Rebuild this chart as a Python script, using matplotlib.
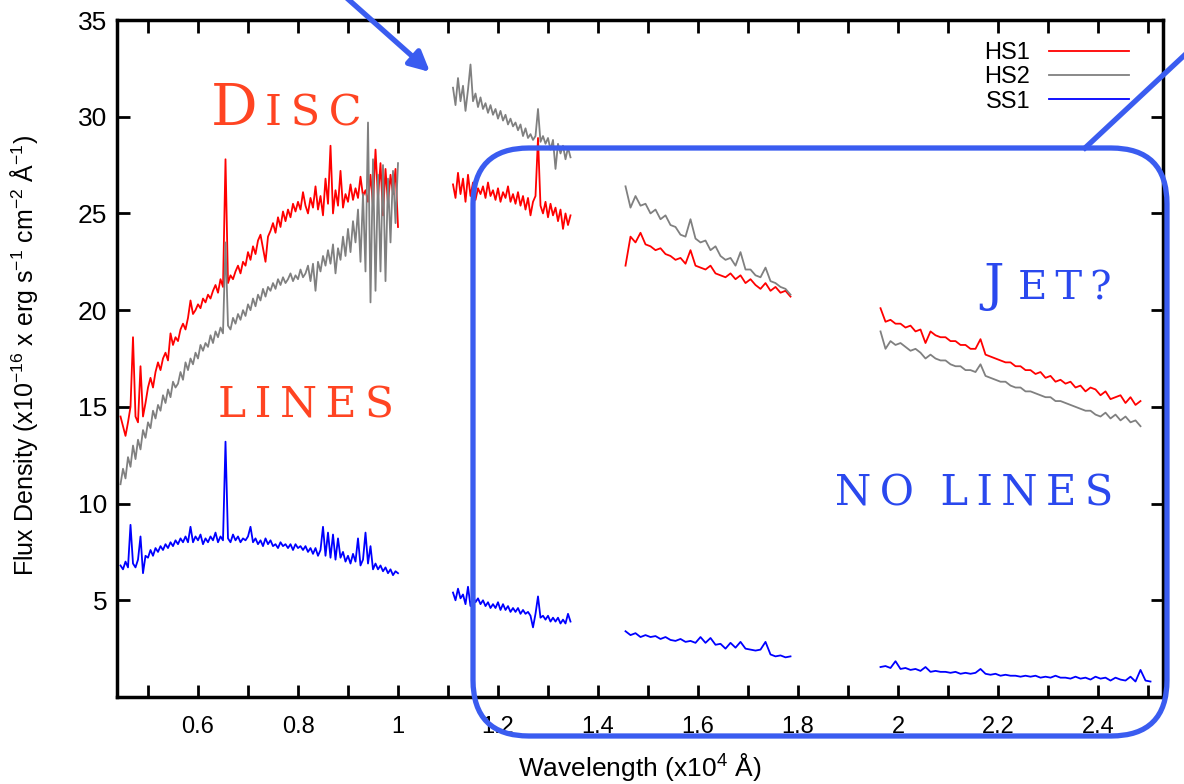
import numpy as np
import matplotlib
matplotlib.use("Agg")
import matplotlib.pyplot as plt
from matplotlib.patches import FancyBboxPatch
from matplotlib.transforms import IdentityTransform

plt.rcParams['font.family'] = ['Liberation Sans', 'DejaVu Sans']
plt.rcParams['mathtext.fontset'] = 'custom'
plt.rcParams['mathtext.rm'] = 'Liberation Sans'
plt.rcParams['mathtext.it'] = 'Liberation Sans:italic'

W, H = 1184, 784

# ---- spectra (flux in 1e-16 erg/s/cm2/A) ----
# segment 1: 0.445 - 1.000 (x1e4 A)
seg1_range = (0.445, 1.000)
hs1_seg1 = [14.5, 14.0, 13.5, 14.2, 15.0, 18.6, 14.5, 14.2, 17.1, 14.5,
            15.2, 16.0, 16.5, 16.0, 16.8, 17.3, 16.9, 17.5, 17.8, 17.4,
            18.8, 18.2, 18.6, 18.4, 19.0, 19.3, 19.0, 19.6, 20.5, 19.8,
            20.0, 20.3, 20.1, 20.6, 20.4, 20.8, 20.6, 21.0, 21.3, 20.9,
            21.6, 21.2, 27.8, 21.4, 21.8, 21.6, 22.0, 22.3, 21.9, 22.5,
            22.3, 23.0, 22.6, 23.3, 22.9, 23.6, 23.9, 23.2, 22.5, 23.8,
            24.1, 24.5, 24.0, 24.8, 24.3, 25.1, 24.6, 25.2, 24.8, 25.5,
            25.1, 25.6, 25.2, 26.1, 25.4, 25.0, 25.8, 25.3, 26.4, 25.2,
            25.9, 24.9, 26.8, 25.5, 28.5, 25.0, 26.2, 25.4, 27.2, 25.3,
            26.0, 25.6, 26.5, 25.7, 26.3, 25.8, 26.9, 25.9, 26.2, 25.6,
            27.0, 25.4, 28.3, 25.8, 27.6, 24.9, 27.3, 25.5, 27.0, 26.0,
            27.3, 24.3]
hs2_seg1 = [11.0, 11.8, 11.3, 12.4, 11.9, 13.0, 12.3, 13.3, 12.8, 13.8,
            13.4, 14.2, 13.9, 14.8, 14.4, 15.1, 14.8, 15.6, 15.2, 15.9,
            15.5, 16.3, 16.0, 16.2, 16.8, 16.4, 17.3, 16.9, 17.5, 17.2,
            17.8, 17.5, 18.2, 17.9, 18.3, 18.1, 18.7, 18.3, 18.9, 18.6,
            19.1, 18.8, 23.5, 19.2, 19.0, 19.6, 19.3, 19.8, 19.5, 20.0,
            19.7, 20.3, 20.0, 20.6, 20.2, 20.8, 20.5, 21.1, 20.7, 21.2,
            21.0, 21.4, 21.1, 21.6, 21.3, 21.7, 21.4, 21.6, 21.9, 21.5,
            21.8, 21.6, 22.1, 21.7, 21.9, 22.3, 21.5, 22.4, 21.0, 22.5,
            22.0, 22.8, 22.3, 23.1, 22.4, 23.4, 21.9, 23.2, 22.6, 23.8,
            22.8, 24.2, 23.0, 24.6, 23.5, 25.2, 22.5, 26.0, 22.0, 29.7,
            20.4, 27.8, 21.0, 27.0, 22.0, 27.5, 21.5, 26.8, 23.5, 27.2,
            24.5, 27.6]
ss1_seg1 = [6.8, 6.6, 7.0, 6.7, 8.9, 6.9, 6.7, 7.1, 8.3, 6.4,
            7.3, 7.2, 7.6, 7.3, 7.7, 7.5, 7.8, 7.6, 7.9, 7.7,
            8.0, 7.8, 8.1, 7.9, 8.2, 8.0, 8.3, 8.0, 8.8, 8.0,
            8.3, 8.1, 8.4, 7.9, 8.2, 8.0, 8.3, 8.1, 8.5, 8.0,
            8.3, 8.1, 13.2, 8.2, 8.0, 8.4, 8.1, 8.3, 8.0, 8.2,
            8.1, 8.3, 8.8, 8.0, 8.2, 7.9, 8.1, 7.8, 8.2, 7.9,
            8.1, 7.8, 7.9, 7.7, 8.0, 7.8, 7.9, 7.7, 7.9, 7.6,
            7.9, 7.7, 7.8, 7.6, 7.8, 7.5, 7.7, 7.4, 7.7, 7.3,
            7.6, 8.8, 7.3, 8.5, 7.2, 8.4, 7.1, 8.2, 7.2, 7.5,
            7.0, 7.3, 6.9, 7.4, 7.0, 8.2, 6.8, 7.1, 8.5, 6.9,
            7.8, 6.6, 6.9, 6.6, 6.8, 6.5, 6.7, 6.4, 6.6, 6.3,
            6.5, 6.4]

# segment 2: 1.110 - 1.345
seg2_range = (1.110, 1.345)
hs1_seg2 = [26.5, 25.8, 27.1, 26.0, 26.8, 25.6, 27.0, 25.9, 26.6, 25.7,
            26.3, 26.0, 26.4, 25.8, 26.6, 25.9, 26.2, 25.7, 26.3, 25.6,
            26.1, 25.8, 26.4, 25.6, 26.0, 25.5, 26.1, 25.4, 25.9, 25.2,
            25.8, 24.9, 25.6, 25.9, 28.9, 25.4, 25.0, 25.6, 24.8, 25.5,
            24.9, 25.3, 24.6, 25.2, 24.2, 25.0, 24.4, 24.9]
hs2_seg2 = [31.5, 30.6, 32.0, 30.8, 31.6, 30.3, 31.4, 32.7, 30.8, 31.2,
            30.5, 31.0, 30.4, 30.7, 30.2, 30.6, 30.1, 30.4, 29.9, 30.3,
            29.8, 30.1, 29.6, 29.9, 29.5, 29.7, 29.3, 29.6, 29.0, 29.4,
            28.9, 29.1, 28.8, 29.0, 30.4, 28.7, 29.0, 28.6, 28.9, 28.3,
            28.8, 27.3, 28.6, 28.1, 28.5, 27.8, 28.4, 27.9]
ss1_seg2 = [5.4, 5.0, 5.6, 5.1, 5.3, 4.8, 5.7, 4.7, 5.2, 4.9,
            5.1, 4.8, 5.0, 4.7, 4.9, 4.6, 4.8, 4.6, 4.9, 4.5,
            4.8, 4.5, 4.7, 4.4, 4.6, 4.4, 4.6, 4.3, 4.5, 4.3,
            4.4, 4.2, 3.6, 4.3, 5.2, 4.1, 4.2, 4.0, 4.2, 3.9,
            4.1, 3.9, 4.1, 3.8, 4.0, 3.8, 4.3, 3.9]

# segment 3: 1.455 - 1.785
seg3_range = (1.455, 1.785)
hs1_seg3 = [22.3, 23.8, 23.5, 24.0, 23.4, 23.3, 23.1, 23.2, 22.9, 22.8,
            22.6, 22.7, 22.4, 23.1, 22.3, 22.2, 22.1, 22.3, 21.9, 21.8,
            21.7, 21.9, 21.6, 21.8, 21.4, 21.6, 21.3, 21.1, 21.4, 21.0,
            21.2, 20.9, 21.0, 20.7]
hs2_seg3 = [26.4, 25.3, 25.9, 25.4, 25.5, 25.0, 25.2, 24.7, 24.9, 24.4,
            24.3, 23.9, 23.8, 24.7, 23.7, 23.5, 23.6, 23.1, 23.3, 22.8,
            22.6, 22.7, 22.3, 23.0, 22.1, 22.1, 21.8, 21.7, 22.2, 21.5,
            21.4, 21.2, 21.1, 20.8]
ss1_seg3 = [3.4, 3.2, 3.3, 3.1, 3.2, 3.1, 3.15, 3.0, 3.1, 2.95,
            2.9, 3.0, 2.85, 2.9, 2.8, 3.1, 2.8, 3.05, 2.7, 2.75,
            2.5, 2.8, 2.55, 2.85, 2.5, 2.45, 2.4, 2.45, 2.85, 2.2,
            2.1, 2.15, 2.05, 2.1]

# segment 4: 1.965 - 2.485 (HS1, HS2), 1.965 - 2.505 (SS1)
seg4_range = (1.965, 2.485)
seg4_range_ss1 = (1.965, 2.505)
hs1_seg4 = [20.1, 19.4, 19.5, 19.3, 19.3, 19.1, 19.2, 18.9, 19.0, 18.3,
            18.9, 18.7, 18.6, 18.6, 18.4, 18.4, 18.2, 18.2, 18.0, 18.0,
            18.5, 17.7, 17.6, 17.5, 17.4, 17.3, 17.3, 17.1, 17.1, 16.9,
            16.9, 16.7, 16.8, 16.5, 16.6, 16.3, 16.4, 16.2, 16.3, 16.0,
            16.1, 15.8, 16.0, 15.9, 15.6, 15.8, 15.4, 15.5, 15.6, 15.2,
            15.5, 15.1, 15.3]
hs2_seg4 = [18.9, 18.0, 18.4, 18.2, 18.3, 18.1, 17.9, 18.0, 17.8, 17.5,
            17.7, 17.5, 17.4, 17.4, 17.2, 17.1, 17.1, 16.9, 16.9, 16.8,
            17.2, 16.6, 16.5, 16.4, 16.3, 16.3, 16.1, 16.0, 16.0, 15.8,
            15.8, 15.7, 15.6, 15.5, 15.5, 15.3, 15.3, 15.2, 15.1, 15.0,
            14.9, 14.8, 14.8, 14.6, 14.5, 14.7, 14.4, 14.6, 14.3, 14.5,
            14.2, 14.3, 14.0]
ss1_seg4 = [1.55, 1.6, 1.5, 1.85, 1.45, 1.5, 1.4, 1.45, 1.35, 1.55,
            1.3, 1.35, 1.3, 1.3, 1.25, 1.3, 1.2, 1.25, 1.2, 1.25,
            1.45, 1.2, 1.15, 1.2, 1.1, 1.15, 1.1, 1.1, 1.05, 1.1,
            1.05, 1.1, 1.0, 1.05, 1.0, 1.1, 1.0, 1.0, 0.95, 1.05,
            0.95, 1.0, 0.9, 1.05, 0.95, 1.0, 0.85, 1.0, 0.9, 0.85,
            1.05, 0.8, 1.4, 0.85, 0.8]

series = [
    ('HS1', 'red', [(seg1_range, hs1_seg1), (seg2_range, hs1_seg2),
                    (seg3_range, hs1_seg3), (seg4_range, hs1_seg4)]),
    ('HS2', 'grey', [(seg1_range, hs2_seg1), (seg2_range, hs2_seg2),
                     (seg3_range, hs2_seg3), (seg4_range, hs2_seg4)]),
    ('SS1', 'blue', [(seg1_range, ss1_seg1), (seg2_range, ss1_seg2),
                     (seg3_range, ss1_seg3), (seg4_range_ss1, ss1_seg4)]),
]

xticks = [0.6, 0.8, 1.0, 1.2, 1.4, 1.6, 1.8, 2.0, 2.2, 2.4]
xtick_labels = ['0.6', '0.8', '1', '1.2', '1.4', '1.6', '1.8', '2', '2.2', '2.4']
yticks = [5, 10, 15, 20, 25, 30, 35]


def fx(px):
    return px / W


def fy(py):
    return 1 - py / H


fig = plt.figure(figsize=(W / 100, H / 100), dpi=100)
ax = fig.add_axes([fx(117), fy(697), (1163 - 117) / W, (697 - 20) / H])

for name, color, segs in series:
    for k, ((x0, x1), vals) in enumerate(segs):
        x = np.linspace(x0, x1, len(vals))
        ax.plot(x, vals, color=color, lw=1.3, label=name if k == 0 else None)

ax.set_xlim(0.438, 2.53)
ax.set_ylim(0, 35)
ax.set_xticks(xticks)
ax.set_xticklabels(xtick_labels)
ax.set_xticks(np.arange(0.5, 2.51, 0.2), minor=True)
ax.set_yticks(yticks)
ax.tick_params(which='both', direction='in', top=True, right=True,
               length=9, width=2)
ax.tick_params(axis='x', which='major', labelsize=17, pad=14)
ax.tick_params(axis='y', labelsize=19, pad=7)
for sp in ax.spines.values():
    sp.set_linewidth(2.5)

ax.set_xlabel('Wavelength (x10$\\mathregular{^4}$ Å)', fontsize=19, labelpad=9)
ax.set_ylabel('Flux Density (x10$\\mathregular{^{-16}}$ x erg s$\\mathregular{^{-1}}$ '
              'cm$\\mathregular{^{-2}}$ Å$\\mathregular{^{-1}}$)', fontsize=18)
ax.yaxis.set_label_coords(-0.074, 0.505)

ax.legend(loc='upper right', bbox_to_anchor=(fx(1141), fy(30)),
          bbox_transform=fig.transFigure, frameon=False, markerfirst=False,
          fontsize=17, handlelength=3.4, handletextpad=0.8, labelspacing=0.1,
          borderpad=0)

# ---- annotations ----
orange = '#ff4422'
blue_ann = '#2a48ee'
box_col = '#3a5cf0'
serif = 'DejaVu Serif'
ts = '\u2009'

fig.text(fx(211), fy(125), 'D', fontsize=42, color=orange, family=serif)
fig.text(fx(265), fy(125), ts.join('ISC'), fontsize=31, color=orange, family=serif)
fig.text(fx(218), fy(418), ts.join('LINES'), fontsize=30.5, color=orange, family=serif)
fig.text(fx(983), fy(300), 'J', fontsize=37, color=blue_ann, family=serif)
fig.text(fx(1018), fy(300), ts.join('ET?'), fontsize=29, color=blue_ann, family=serif)
fig.text(fx(835), fy(505), ts.join('NO') + '  ' + ts.join('LINES'), fontsize=30,
         color=blue_ann, family=serif)

box = FancyBboxPatch((473, H - 736), 1167 - 473, 736 - 148,
                     boxstyle='round,pad=0,rounding_size=56',
                     transform=IdentityTransform(), fill=False,
                     edgecolor=box_col, lw=3.8, zorder=5)
fig.add_artist(box)

fig.add_artist(plt.Line2D([fx(1085), fx(1190)], [fy(148), fy(50)],
                          color=box_col, lw=3.8, transform=fig.transFigure))
ax.annotate('', xy=(fx(430), fy(72)), xycoords='figure fraction',
            xytext=(fx(340), fy(-8)), textcoords='figure fraction',
            arrowprops=dict(arrowstyle='-|>', color=box_col, lw=3.8,
                            mutation_scale=30, shrinkA=0, shrinkB=0),
            annotation_clip=False)

fig.savefig('out.png', dpi=100)
